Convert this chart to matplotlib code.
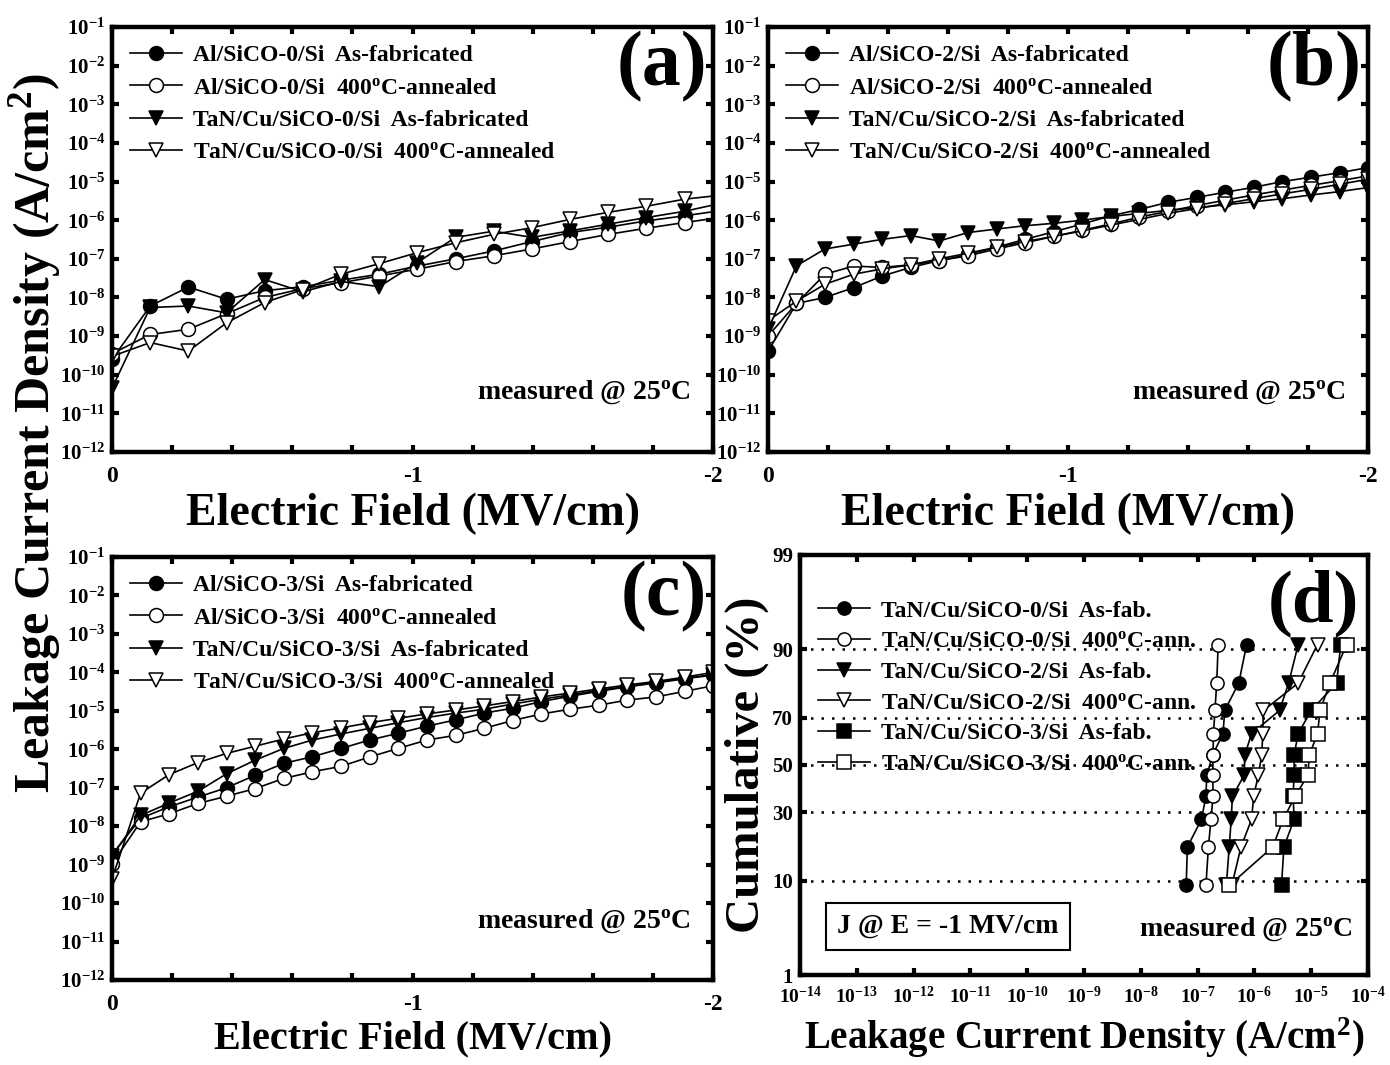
import matplotlib
matplotlib.use('Agg')
import matplotlib.pyplot as plt
import numpy as np
from math import erf
from matplotlib.ticker import MultipleLocator, FixedLocator, FuncFormatter, NullLocator

plt.rcParams['font.family'] = ['Liberation Serif', 'DejaVu Serif']
plt.rcParams['font.weight'] = 'bold'
plt.rcParams['mathtext.fontset'] = 'custom'
plt.rcParams['mathtext.rm'] = 'Liberation Serif:bold'
plt.rcParams['mathtext.bf'] = 'Liberation Serif:bold'
plt.rcParams['mathtext.it'] = 'Liberation Serif:bold:italic'

DEG = r'$^{\mathrm{o}}$'

# ---- panel (a): SiCO-0, J-E curves
field_a = [0, -0.127, -0.254, -0.381, -0.508, -0.635, -0.762, -0.889, -1.016,
           -1.143, -1.27, -1.397, -1.524, -1.651, -1.778, -1.905, -2.032]
al0_asfab = [2.5e-10, 6.0e-9, 1.86e-8, 9.0e-9, 1.5e-8, 1.9e-8, 2.8e-8, 4.0e-8, 6.5e-8,
             1.0e-7, 1.6e-7, 2.8e-7, 4.8e-7, 6.6e-7, 9.6e-7, 1.3e-6, 1.8e-6]
al0_ann = [3.5e-10, 1.1e-9, 1.5e-9, 3.8e-9, 1.0e-8, 1.7e-8, 2.4e-8, 3.6e-8, 5.4e-8,
           8.5e-8, 1.2e-7, 1.8e-7, 2.8e-7, 4.3e-7, 6.2e-7, 8.7e-7, 1.2e-6]
ta0_asfab = [4.5e-11, 5.5e-9, 6.0e-9, 4.0e-9, 2.9e-8, 1.4e-8, 2.6e-8, 1.9e-8, 8.0e-8,
             3.6e-7, 5.2e-7, 3.6e-7, 5.3e-7, 7.9e-7, 1.17e-6, 1.7e-6, 2.8e-6]
ta0_ann = [3.0e-10, 6.8e-10, 4.1e-10, 2.2e-9, 7.4e-9, 1.6e-8, 4.0e-8, 7.5e-8, 1.45e-7,
           2.6e-7, 4.3e-7, 6.4e-7, 1.05e-6, 1.6e-6, 2.3e-6, 3.5e-6, 4.5e-6]

# ---- panels (b), (c): common field steps
field_bc = [0, -0.095, -0.19, -0.286, -0.381, -0.476, -0.571, -0.667, -0.762, -0.857, -0.952,
            -1.048, -1.143, -1.238, -1.333, -1.429, -1.524, -1.619, -1.714, -1.81, -1.905, -2.0]

al2_asfab = [4.0e-10, 7e-9, 1.0e-8, 1.8e-8, 3.6e-8, 6e-8, 9e-8, 1.3e-7, 2.0e-7, 3.2e-7, 5e-7,
             8e-7, 1.3e-6, 1.9e-6, 2.9e-6, 3.9e-6, 5.3e-6, 7.1e-6, 1.0e-5, 1.3e-5, 1.7e-5, 2.3e-5]
al2_ann = [1.0e-9, 7e-9, 4e-8, 6.5e-8, 6e-8, 7e-8, 9e-8, 1.2e-7, 1.8e-7, 2.6e-7, 3.8e-7,
           5.5e-7, 8e-7, 1.2e-6, 1.7e-6, 2.4e-6, 3.3e-6, 4.5e-6, 6e-6, 8e-6, 1.05e-5, 1.4e-5]
ta2_asfab = [1.5e-9, 6.6e-8, 1.8e-7, 2.4e-7, 3.2e-7, 4e-7, 2.9e-7, 4.8e-7, 5.9e-7, 7.2e-7, 8.3e-7,
             1.0e-6, 1.25e-6, 1.5e-6, 1.8e-6, 2.1e-6, 2.5e-6, 3.0e-6, 3.6e-6, 4.5e-6, 5.5e-6, 7e-6]
ta2_ann = [2.5e-9, 8e-9, 2.2e-8, 4e-8, 5.5e-8, 7e-8, 1.0e-7, 1.4e-7, 2e-7, 2.8e-7, 3.8e-7,
           5.3e-7, 7.5e-7, 1.05e-6, 1.5e-6, 2.0e-6, 2.7e-6, 3.6e-6, 4.8e-6, 6.3e-6, 8.5e-6, 1.15e-5]

al3_asfab = [1.8e-9, 1.6e-8, 3.2e-8, 5.7e-8, 1.0e-7, 2.1e-7, 4.3e-7, 6.4e-7, 1.05e-6, 1.74e-6, 2.6e-6,
             4e-6, 5.8e-6, 8.7e-6, 1.17e-5, 1.74e-5, 2.4e-5, 3.2e-5, 4.2e-5, 5.3e-5, 6.8e-5, 8.5e-5]
al3_ann = [1.05e-9, 1.3e-8, 2.1e-8, 3.9e-8, 6e-8, 9.5e-8, 1.74e-7, 2.6e-7, 3.6e-7, 6.3e-7, 1.05e-6,
           1.74e-6, 2.3e-6, 3.5e-6, 5.6e-6, 8.3e-6, 1.1e-5, 1.4e-5, 1.9e-5, 2.3e-5, 3.2e-5, 4.5e-5]
ta3_asfab = [1.7e-9, 1.9e-8, 4e-8, 8.1e-8, 2.3e-7, 5.2e-7, 1.05e-6, 1.74e-6, 2.5e-6, 3.5e-6, 4.9e-6,
             6.7e-6, 8.7e-6, 1.1e-5, 1.5e-5, 2e-5, 2.6e-5, 3.4e-5, 4.3e-5, 5.5e-5, 7.1e-5, 8.7e-5]
ta3_ann = [4.3e-10, 7.2e-8, 2.2e-7, 4.5e-7, 7.8e-7, 1.2e-6, 1.85e-6, 2.7e-6, 3.6e-6, 4.9e-6, 6.4e-6,
           8.3e-6, 1.05e-5, 1.34e-5, 1.74e-5, 2.3e-5, 2.9e-5, 3.7e-5, 4.7e-5, 5.8e-5, 7.5e-5, 1.0e-4]

# ---- panel (d): cumulative distribution of J @ -1 MV/cm
cum_pct = [9.1, 18.2, 27.3, 36.4, 45.5, 54.5, 63.6, 72.7, 81.8, 90.9]
d_s0_asfab = [6.3e-8, 6.6e-8, 1.17e-7, 1.4e-7, 1.45e-7, 1.85e-7, 2.8e-7, 3.0e-7, 5.3e-7, 7.3e-7]
d_s0_ann = [1.4e-7, 1.55e-7, 1.72e-7, 1.87e-7, 1.85e-7, 1.87e-7, 1.9e-7, 2.02e-7, 2.17e-7, 2.3e-7]
d_s2_asfab = [3.2e-7, 3.6e-7, 3.9e-7, 4.1e-7, 6.6e-7, 6.8e-7, 8.9e-7, 2.77e-6, 4.0e-6, 5.9e-6]
d_s2_ann = [4.0e-7, 5.8e-7, 8.9e-7, 9.7e-7, 1.17e-6, 1.35e-6, 1.4e-6, 1.44e-6, 5.9e-6, 1.29e-5]
d_s3_asfab = [3.0e-6, 3.3e-6, 5.0e-6, 4.8e-6, 5.0e-6, 5.0e-6, 5.9e-6, 1.0e-5, 2.8e-5, 3.3e-5]
d_s3_ann = [3.6e-7, 2.1e-6, 3.2e-6, 5.2e-6, 8.7e-6, 9.3e-6, 1.29e-5, 1.43e-5, 2.14e-5, 4.2e-5]

STYLES = [dict(marker='o', mfc='black'), dict(marker='o', mfc='white'),
          dict(marker='v', mfc='black'), dict(marker='v', mfc='white')]


def decade_fmt(v, pos):
    return r'$\mathrm{10^{%d}}$' % int(round(np.log10(v)))


def field_fmt(v, pos):
    if abs(v - round(v)) < 1e-6:
        return str(int(round(v)))
    return ''


def style_axes(ax):
    for s in ax.spines.values():
        s.set_linewidth(3.2)
    ax.tick_params(which='both', direction='in', length=5, width=3,
                   top=True, right=True, labelsize=15, pad=5)


def jv_panel(ax, x, series, labels, tag, xlab_size):
    for y, lab, st in zip(series, labels, STYLES):
        ax.plot(x, y, color='black', lw=1.2, ms=10, mec='black', mew=1.1,
                label=lab, **st)
    ax.set_yscale('log')
    ax.set_ylim(1e-12, 1e-1)
    ax.set_xlim(0, -2)
    ax.yaxis.set_major_locator(FixedLocator([10.0 ** k for k in range(-12, 0)]))
    ax.yaxis.set_minor_locator(NullLocator())
    ax.yaxis.set_major_formatter(FuncFormatter(decade_fmt))
    ax.xaxis.set_major_locator(MultipleLocator(0.2))
    ax.xaxis.set_major_formatter(FuncFormatter(field_fmt))
    style_axes(ax)
    ax.tick_params(axis='x', pad=10, labelsize=17)
    ax.legend(loc='upper left', bbox_to_anchor=(0.0, 1.0), frameon=False, fontsize=17,
              handlelength=2.2, handletextpad=0.5, labelspacing=0.46, borderaxespad=0.35,
              numpoints=1)
    ax.text(0.99, 0.99, tag, transform=ax.transAxes, ha='right', va='top',
            fontsize=56, fontweight='bold')
    ax.text(0.962, 0.14, 'measured @ 25' + DEG + 'C', transform=ax.transAxes,
            ha='right', va='center', fontsize=20, fontweight='bold')
    ax.set_xlabel('Electric Field (MV/cm)', fontsize=xlab_size, fontweight='bold', labelpad=4)


fig = plt.figure(figsize=(13.9, 10.65), dpi=100)
fig.patch.set_facecolor('white')

ax_a = fig.add_axes([0.0806, 0.5756, 0.4324, 0.399])
ax_b = fig.add_axes([0.5525, 0.5756, 0.4317, 0.399])
ax_c = fig.add_axes([0.0806, 0.0798, 0.4324, 0.3972])
ax_d = fig.add_axes([0.5755, 0.0845, 0.4087, 0.3944])

ann = '400' + DEG + 'C-annealed'
jv_panel(ax_a, field_a, [al0_asfab, al0_ann, ta0_asfab, ta0_ann],
         ['Al/SiCO-0/Si  As-fabricated', 'Al/SiCO-0/Si  ' + ann,
          'TaN/Cu/SiCO-0/Si  As-fabricated', 'TaN/Cu/SiCO-0/Si  ' + ann], '(a)', 33)
jv_panel(ax_b, field_bc, [al2_asfab, al2_ann, ta2_asfab, ta2_ann],
         ['Al/SiCO-2/Si  As-fabricated', 'Al/SiCO-2/Si  ' + ann,
          'TaN/Cu/SiCO-2/Si  As-fabricated', 'TaN/Cu/SiCO-2/Si  ' + ann], '(b)', 33)
jv_panel(ax_c, field_bc, [al3_asfab, al3_ann, ta3_asfab, ta3_ann],
         ['Al/SiCO-3/Si  As-fabricated', 'Al/SiCO-3/Si  ' + ann,
          'TaN/Cu/SiCO-3/Si  As-fabricated', 'TaN/Cu/SiCO-3/Si  ' + ann], '(c)', 29)

# ---- panel (d) with normal-probability y scale
_zgrid = np.linspace(-6, 6, 4001)
_erf = np.vectorize(erf)


def _cdf(z):
    return 0.5 * (1.0 + _erf(np.asarray(z, dtype=float) / np.sqrt(2.0)))


_cgrid = _cdf(_zgrid)


def prob_fwd(p):
    p = np.clip(np.asarray(p, dtype=float) / 100.0, 1e-9, 1 - 1e-9)
    return np.interp(p, _cgrid, _zgrid)


def prob_inv(z):
    return 100.0 * _cdf(z)


d_series = [d_s0_asfab, d_s0_ann, d_s2_asfab, d_s2_ann, d_s3_asfab, d_s3_ann]
d_labels = ['TaN/Cu/SiCO-0/Si  As-fab.', 'TaN/Cu/SiCO-0/Si  400' + DEG + 'C-ann.',
            'TaN/Cu/SiCO-2/Si  As-fab.', 'TaN/Cu/SiCO-2/Si  400' + DEG + 'C-ann.',
            'TaN/Cu/SiCO-3/Si  As-fab.', 'TaN/Cu/SiCO-3/Si  400' + DEG + 'C-ann.']
d_styles = STYLES + [dict(marker='s', mfc='black'), dict(marker='s', mfc='white')]

ax_d.set_yscale('function', functions=(prob_fwd, prob_inv))
for lvl in [10, 30, 50, 70, 90]:
    ax_d.axhline(lvl, color='black', lw=1.8, ls=(0, (1, 3.2)), zorder=1)
for xs, lab, st in zip(d_series, d_labels, d_styles):
    ax_d.plot(xs, cum_pct, color='black', lw=1.2, ms=9.5, mec='black', mew=1.1,
              label=lab, zorder=3, **st)
ax_d.set_xscale('log')
ax_d.set_xlim(1e-14, 1e-4)
ax_d.set_ylim(1, 99)
ax_d.xaxis.set_major_locator(FixedLocator([10.0 ** k for k in range(-14, -3)]))
ax_d.xaxis.set_minor_locator(NullLocator())
ax_d.xaxis.set_major_formatter(FuncFormatter(decade_fmt))
ax_d.yaxis.set_major_locator(FixedLocator([1, 10, 30, 50, 70, 90, 99]))
ax_d.yaxis.set_minor_locator(NullLocator())
ax_d.yaxis.set_major_formatter(FuncFormatter(lambda v, pos: '%d' % round(v)))
style_axes(ax_d)
ax_d.tick_params(axis='x', labelsize=14, pad=8)
ax_d.legend(loc='upper left', bbox_to_anchor=(0.0, 0.935), frameon=False, fontsize=17,
            handlelength=2.2, handletextpad=0.5, labelspacing=0.39, borderaxespad=0.35,
            numpoints=1)
ax_d.text(0.985, 0.965, '(d)', transform=ax_d.transAxes, ha='right', va='top',
          fontsize=54, fontweight='bold')
ax_d.text(0.972, 0.11, 'measured @ 25' + DEG + 'C', transform=ax_d.transAxes,
          ha='right', va='center', fontsize=20, fontweight='bold')
ax_d.text(0.26, 0.115, 'J @ E = -1 MV/cm', transform=ax_d.transAxes,
          ha='center', va='center', fontsize=20, fontweight='bold',
          bbox=dict(boxstyle='square,pad=0.4', fc='white', ec='black', lw=1.5))
ax_d.set_xlabel('Leakage Current Density (A/cm$^{\\mathrm{2}}$)', fontsize=28,
                fontweight='bold', labelpad=6)
ax_d.set_ylabel('Cumulative (%)', fontsize=35, fontweight='bold', labelpad=2)

fig.text(0.025, 0.593, 'Leakage Current Density (A/cm$^{\\mathrm{2}}$)', rotation=90,
         ha='center', va='center', fontsize=36, fontweight='bold')

fig.savefig('out.png', dpi=100, facecolor='white')
